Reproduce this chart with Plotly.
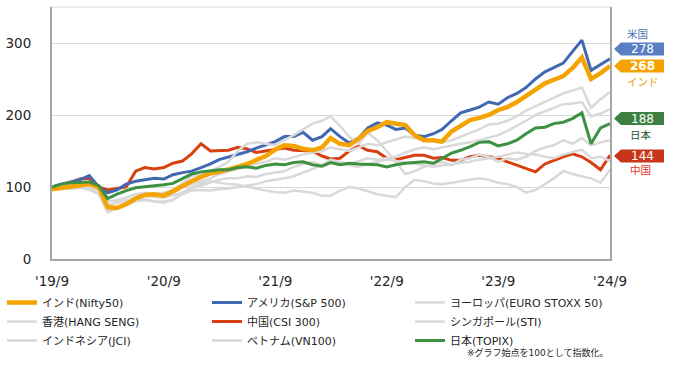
import plotly.graph_objects as go
import pandas as pd

# ---------------- data (index, start = 100) ----------------
dates = pd.date_range("2019-09-01", periods=61, freq="MS")
tick_dates = ["2019-09-01", "2020-09-01", "2021-09-01", "2022-09-01", "2023-09-01", "2024-09-01"]
tick_labels = ["'19/9", "'20/9", "'21/9", "'22/9", "'23/9", "'24/9"]

india = [97, 99, 100, 102, 104, 100, 72, 71, 76, 84,
         89, 90, 88, 94, 102, 108, 114, 119, 121, 124,
         128, 132, 137, 143, 152, 158, 157, 153, 151, 155,
         168, 160, 158, 167, 178, 183, 190, 188, 186, 172,
         165, 165, 163, 177, 184, 193, 196, 200, 207, 211,
         218, 226, 235, 244, 249, 254, 265, 280, 250, 258, 268]
usa = [100, 104, 107, 110, 116, 100, 92, 96, 104, 108,
       110, 112, 111, 117, 120, 122, 127, 132, 138, 142,
       146, 149, 154, 159, 163, 170, 170, 176, 165, 170,
       181, 170, 161, 168, 182, 189, 186, 180, 182, 172,
       170, 174, 180, 192, 203, 207, 211, 218, 215, 224,
       230, 238, 250, 260, 266, 272, 288, 304, 262, 270, 278]
europe = [100, 102, 104, 105, 103, 97, 72, 80, 85, 90,
          92, 90, 88, 92, 100, 104, 108, 112, 118, 122,
          125, 128, 132, 135, 140, 138, 142, 145, 148, 150,
          155, 152, 150, 155, 160, 158, 162, 165, 170, 168,
          165, 163, 162, 165, 170, 175, 180, 187, 188, 192,
          198, 206, 212, 218, 224, 230, 234, 238, 210, 222, 232]
hongkong = [100, 101, 103, 105, 100, 97, 80, 82, 85, 90,
            88, 86, 85, 88, 92, 100, 105, 108, 106, 104,
            103, 100, 98, 95, 93, 92, 95, 94, 92, 88,
            88, 95, 100, 98, 94, 90, 88, 86, 100, 110,
            108, 105, 104, 106, 108, 110, 112, 110, 106, 104,
            100, 92, 96, 104, 112, 122, 118, 115, 112, 106, 124]
china = [100, 103, 106, 111, 112, 100, 96, 98, 100, 122,
         127, 125, 127, 133, 136, 146, 160, 150, 150, 151,
         155, 153, 148, 150, 153, 154, 151, 151, 150, 143,
         139, 140, 150, 157, 151, 149, 140, 138, 141, 144,
         144, 140, 141, 137, 137, 142, 144, 142, 140, 135,
         130, 125, 121, 132, 137, 142, 146, 142, 134, 124, 144]
singapore = [100, 101, 102, 103, 100, 95, 75, 78, 80, 84,
             83, 80, 80, 82, 92, 98, 102, 106, 110, 112,
             112, 115, 114, 118, 120, 122, 128, 132, 135, 130,
             138, 135, 132, 136, 140, 138, 140, 142, 148, 152,
             155, 152, 155, 158, 160, 162, 165, 168, 172, 178,
             185, 192, 200, 205, 210, 215, 216, 218, 198, 202, 208]
indonesia = [100, 99, 98, 100, 96, 90, 68, 72, 75, 80,
             82, 80, 78, 82, 90, 95, 96, 95, 97, 98,
             100, 102, 104, 108, 110, 112, 115, 120, 125, 130,
             135, 132, 130, 128, 132, 135, 138, 136, 134, 132,
             130, 128, 130, 132, 134, 135, 138, 140, 142, 145,
             148, 146, 145, 142, 140, 145, 148, 152, 140, 142, 136]
vietnam = [100, 100, 98, 99, 97, 90, 65, 70, 78, 85,
           88, 90, 92, 96, 105, 115, 118, 122, 128, 135,
           150, 160, 162, 160, 158, 165, 172, 180, 188, 192,
           198, 185, 170, 160, 175, 165, 150, 135, 118, 122,
           128, 132, 135, 130, 138, 140, 145, 142, 135, 140,
           138, 142, 150, 155, 158, 165, 160, 168, 158, 162, 165]
japan = [100, 104, 106, 107, 107, 102, 84, 90, 95, 99,
         100, 101, 103, 105, 112, 118, 121, 123, 124, 124,
         127, 128, 126, 130, 132, 131, 134, 135, 131, 129,
         134, 131, 133, 132, 131, 131, 128, 131, 133, 134,
         135, 133, 140, 147, 151, 156, 162, 163, 157, 160,
         165, 174, 182, 183, 188, 190, 195, 203, 160, 182, 188]

names = {
    "india": "インド(Nifty50)", "usa": "アメリカ(S&P 500)", "europe": "ヨーロッパ(EURO STOXX 50)",
    "hongkong": "香港(HANG SENG)", "china": "中国(CSI 300)", "singapore": "シンガポール(STI)",
    "indonesia": "インドネシア(JCI)", "vietnam": "ベトナム(VN100)", "japan": "日本(TOPIX)",
}
footnote = "※グラフ始点を100として指数化。"

# ---------------- styles ----------------
ORANGE, BLUE, RED, GREEN, GREY = "#F4A300", "#4169B2", "#D8400F", "#3C9142", "#D9D9D9"
FONT = "DejaVu Sans, Noto Sans CJK JP, sans-serif"
W, H = 677, 365
L, R, T, B = 52, 67, 7, 106
PW, PH = W - L - R, H - T - B


def px(x):
    return (x - L) / PW


def py(y):
    return (H - B - y) / PH


fig = go.Figure()


def add(key, vals, color, width, legend, rank):
    fig.add_trace(go.Scatter(x=dates, y=vals, mode="lines", name=names[key],
                             line=dict(color=color, width=width), legend=legend,
                             legendrank=rank, hoverinfo="skip"))


# drawing order; legend columns: legend / legend2 / legend3
add("china", china, RED, 3, "legend2", 2)
add("usa", usa, BLUE, 3, "legend2", 1)
add("europe", europe, GREY, 2.5, "legend3", 1)
add("hongkong", hongkong, GREY, 2.5, "legend", 2)
add("singapore", singapore, GREY, 2.5, "legend3", 2)
add("indonesia", indonesia, GREY, 2.5, "legend", 3)
add("vietnam", vietnam, GREY, 2.5, "legend2", 3)
add("india", india, ORANGE, 4.5, "legend", 1)
add("japan", japan, GREEN, 3, "legend3", 3)

shapes = [dict(type="line", xref="paper", yref="paper", x0=0, x1=1, y0=1, y1=1,
               line=dict(color="#D9D9D9", width=1), layer="below")]
annotations = []


def tag(yc, value, box_color, label, label_color, label_x, label_y, bold=False):
    x_tip, x_l, x_r = px(614), px(621), px(664)
    y_t, y_b, y_c = py(yc - 6.5), py(yc + 6.5), py(yc)
    shapes.append(dict(type="path", xref="paper", yref="paper",
                       path=f"M {x_tip},{y_c} L {x_l},{y_t} L {x_r},{y_t} L {x_r},{y_b} L {x_l},{y_b} Z",
                       fillcolor=box_color, line=dict(width=0)))
    txt = f"<b>{value}</b>" if bold else f"{value}"
    annotations.append(dict(xref="paper", yref="paper", x=px(642), y=y_c, text=txt, showarrow=False,
                            xanchor="center", yanchor="middle",
                            font=dict(family=FONT, size=12, color="white")))
    annotations.append(dict(xref="paper", yref="paper", x=px(label_x), y=py(label_y), text=label,
                            showarrow=False, xanchor="center", yanchor="middle",
                            font=dict(family=FONT, size=10.5, color=label_color)))


tag(49, usa[-1], "#5A7EC3", "米国", "#4A6FB5", 637, 34)
tag(66, india[-1], "#F5A300", "インド", "#F0A000", 643, 82, bold=True)
tag(118.5, japan[-1], "#3E8042", "日本", "#1E4D2B", 641, 135)
tag(156, china[-1], "#C8361A", "中国", "#E0301E", 640, 170)

annotations.append(dict(xref="paper", yref="paper", x=px(610), y=py(352), text=footnote,
                        showarrow=False, xanchor="right", yanchor="middle",
                        font=dict(family=FONT, size=9, color="#262626")))


def legend_col(x_pixel):
    return dict(orientation="v", x=px(x_pixel), xanchor="left", y=py(288), yanchor="top",
                itemwidth=30, font=dict(family=FONT, size=11, color="#262626"),
                traceorder="normal", bgcolor="rgba(0,0,0,0)")


fig.update_layout(
    width=W, height=H, margin=dict(l=L, r=R, t=T, b=B, autoexpand=False),
    paper_bgcolor="white", plot_bgcolor="white",
    font=dict(family=FONT, color="#262626"),
    showlegend=True,
    legend=legend_col(2), legend2=legend_col(207), legend3=legend_col(410),
    xaxis=dict(type="date", range=["2019-09-01", "2024-09-01"],
               tickvals=tick_dates, ticktext=tick_labels,
               showgrid=False, zeroline=False, showline=True, linecolor="#A6A6A6", linewidth=2,
               ticks="outside", ticklen=9, tickcolor="rgba(0,0,0,0)",
               tickfont=dict(family=FONT, size=13.5, color="#262626")),
    yaxis=dict(range=[0, 350], tickvals=[0, 100, 200, 300],
               showgrid=True, gridcolor="#D9D9D9", gridwidth=1, zeroline=False,
               showline=True, mirror=True, linecolor="#A6A6A6", linewidth=2,
               ticks="outside", ticklen=16, tickcolor="rgba(0,0,0,0)",
               tickfont=dict(family=FONT, size=13.5, color="#262626")),
    shapes=shapes, annotations=annotations,
)

fig.write_html("out.html", config={"displayModeBar": False},
               post_script="document.body.style.margin='0';")
